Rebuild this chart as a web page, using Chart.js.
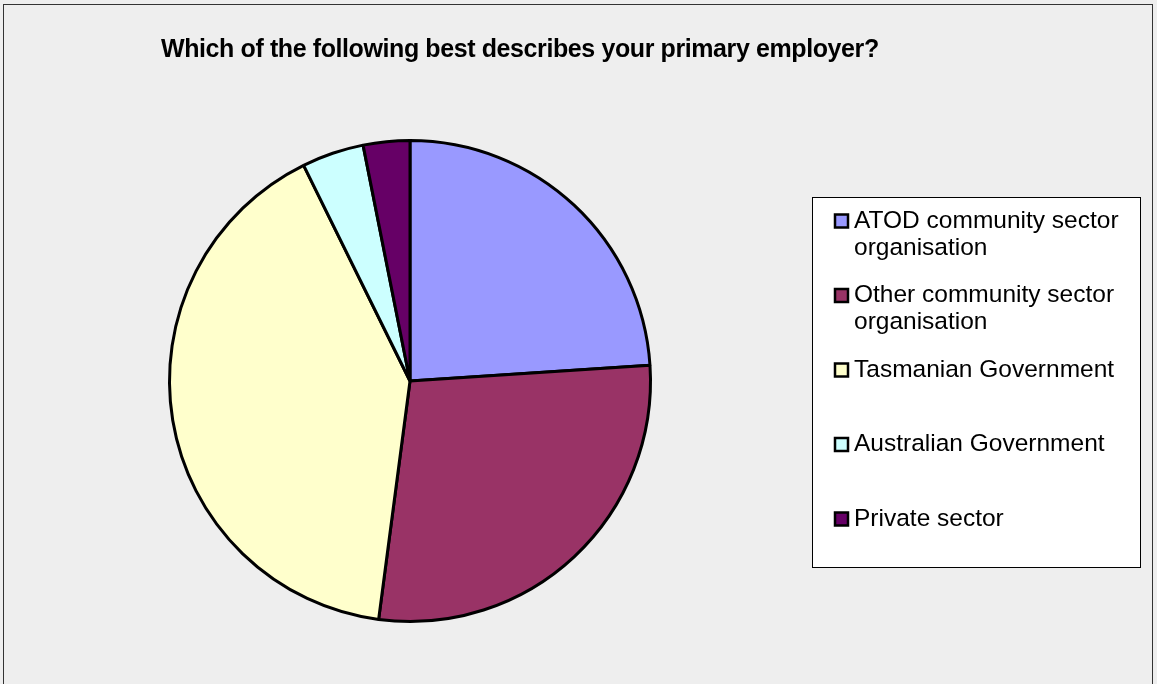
<!DOCTYPE html>
<html>
<head>
<meta charset="utf-8">
<script src="https://cdn.jsdelivr.net/npm/chart.js@4"></script>
<style>
  html, body { margin: 0; padding: 0; background: #eeeeee; }
  #wrap { width: 1157px; height: 684px; }
</style>
</head>
<body>
<div id="wrap"><canvas id="employerPie" width="1157" height="684"></canvas></div>
<script>
var chartTitle = 'Which of the following best describes your primary employer?';
var employerLabels = [
    'ATOD community sector organisation',
    'Other community sector organisation',
    'Tasmanian Government',
    'Australian Government',
    'Private sector'
];
var employerCounts = [23, 27, 39, 4, 3];
var sliceColors = ['#9999FF', '#993366', '#FFFFCC', '#CCFFFF', '#660066'];

// background, frame, title and the boxed legend on the right
var frameAndLegend = {
    id: 'frameAndLegend',
    beforeDraw: function (chart) {
        var c = chart.ctx;
        c.save();
        c.fillStyle = '#eeeeee';
        c.fillRect(0, 0, chart.width, chart.height);
        c.strokeStyle = '#333333';
        c.lineWidth = 1;
        c.strokeRect(3.5, 4.5, 1149, 700);
        c.restore();
    },
    afterDraw: function (chart) {
        var c = chart.ctx;
        c.save();
        c.fillStyle = '#000';
        c.font = 'bold 25px "Liberation Sans", Arial, sans-serif';
        c.letterSpacing = '-0.4px';
        c.textBaseline = 'alphabetic';
        c.fillText(chartTitle, 161, 57);
        c.letterSpacing = '0px';

        // legend box
        c.fillStyle = '#ffffff';
        c.fillRect(812, 197, 329, 371);
        c.strokeStyle = '#000';
        c.lineWidth = 1;
        c.strokeRect(812.5, 197.5, 328, 370);

        c.font = '24.5px "Liberation Sans", Arial, sans-serif';
        c.textBaseline = 'middle';
        var maxW = 280;
        var labels = chart.data.labels;
        var colors = chart.data.datasets[0].backgroundColor;
        for (var i = 0; i < labels.length; i++) {
            var y = 221 + i * 74.5;
            // wrap words into lines
            var words = labels[i].split(' ');
            var lines = [];
            var line = '';
            words.forEach(function (w) {
                var test = line ? line + ' ' + w : w;
                if (c.measureText(test).width > maxW && line) {
                    lines.push(line);
                    line = w;
                } else {
                    line = test;
                }
            });
            lines.push(line);

            c.fillStyle = colors[i];
            c.fillRect(835, y - 6.5, 13, 13);
            c.strokeStyle = '#000';
            c.lineWidth = 2.5;
            c.strokeRect(835, y - 6.5, 13, 13);

            c.fillStyle = '#000';
            lines.forEach(function (t, j) {
                c.fillText(t, 854, y + j * 27);
            });
        }
        c.restore();
    }
};

var ctx = document.getElementById('employerPie').getContext('2d');
var employerPie = new Chart(ctx, {
    type: 'pie',
    data: {
        labels: employerLabels,
        datasets: [{
            data: employerCounts,
            backgroundColor: sliceColors,
            borderColor: '#000000',
            borderWidth: 3
        }]
    },
    options: {
        responsive: false,
        animation: false,
        layout: {
            padding: { left: 168, right: 505, top: 139, bottom: 61 }
        },
        plugins: {
            legend: { display: false },
            title: { display: false },
            tooltip: { enabled: true }
        }
    },
    plugins: [frameAndLegend]
});
</script>
</body>
</html>
